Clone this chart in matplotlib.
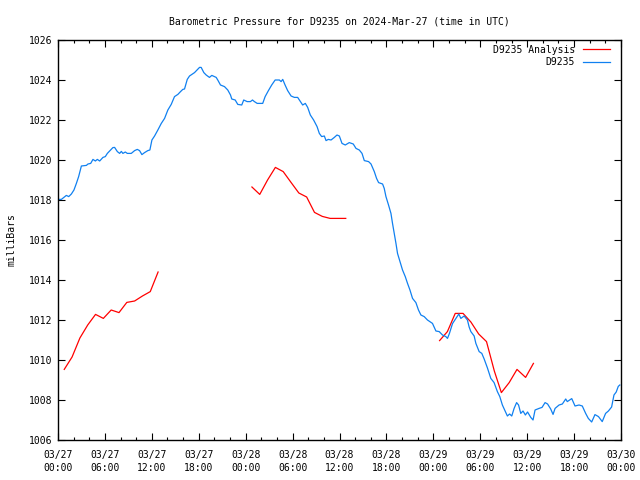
import matplotlib
matplotlib.use("Agg")
import matplotlib.pyplot as plt
from matplotlib.ticker import FixedLocator, MultipleLocator

plt.rcParams['font.family'] = ['DejaVu Sans Mono']

title = "Barometric Pressure for D9235 on 2024-Mar-27 (time in UTC)"
ylabel = "milliBars"

# hours since 2024-03-27 00:00 UTC
blue_hours = [0.00, 0.43, 1.07, 1.37, 1.71, 2.04, 2.35, 2.64, 2.99, 3.63, 3.83, 4.18, 4.47, 4.78,
              5.03, 5.33, 5.75, 6.05, 6.31, 6.60, 7.02, 7.24, 7.59, 7.88, 8.10, 8.30, 8.61, 8.86,
              9.37, 9.80, 10.14, 10.43, 10.73, 11.07, 11.49, 11.75, 12.01, 12.35, 12.77, 13.21,
              13.63, 14.05, 14.48, 14.90, 15.33, 15.67, 15.96, 16.18, 16.53, 16.82, 17.46, 18.10,
              18.31, 18.65, 18.95, 19.37, 19.67, 20.23, 20.43, 20.78, 21.29, 21.71, 22.06, 22.22,
              22.66, 22.99, 23.50, 23.75, 24.19, 24.61, 24.87, 25.12, 25.47, 26.18, 26.49, 26.91,
              27.33, 27.77, 28.31, 28.53, 28.74, 29.04, 29.37, 29.81, 30.23, 30.65, 31.00, 31.29,
              31.63, 31.93, 32.27, 32.69, 33.13, 33.42, 33.72, 34.06, 34.28, 34.57, 34.92, 35.34,
              35.68, 35.98, 36.32, 36.74, 37.25, 37.76, 38.11, 38.53, 38.88, 39.17, 39.72, 40.03,
              40.45, 40.74, 41.00, 41.51, 41.72, 41.94, 42.27, 42.58, 42.78, 43.00, 43.22, 43.42,
              43.73, 44.06, 44.41, 44.70, 45.01, 45.34, 45.77, 46.10, 46.41, 46.83, 47.25, 47.56,
              47.89, 48.33, 48.75, 49.17, 49.60, 49.81, 50.06, 50.45, 50.88, 51.26, 51.52, 51.94,
              52.36, 52.58, 52.80, 53.22, 53.44, 53.86, 54.20, 54.50, 54.92, 55.35, 55.77, 56.19,
              56.50, 56.83, 57.18, 57.47, 57.75, 58.03, 58.33, 58.65, 58.90, 59.18, 59.47, 59.77,
              60.05, 60.46, 60.75, 61.01, 61.52, 61.90, 62.29, 62.61, 63.01, 63.31, 63.57, 64.08,
              64.50, 64.93, 65.13, 65.70, 66.12, 66.63, 67.05, 67.48, 67.82, 68.25, 68.67, 69.12,
              69.60, 70.03, 70.39, 70.80, 71.10, 71.39, 71.65, 71.85]
blue_mb = [1018.03, 1018.03, 1018.23, 1018.17, 1018.30, 1018.50, 1018.83, 1019.17, 1019.70, 1019.73,
           1019.80, 1019.83, 1020.03, 1019.95, 1020.03, 1019.95, 1020.13, 1020.17, 1020.33, 1020.45,
           1020.62, 1020.63, 1020.42, 1020.33, 1020.43, 1020.33, 1020.40, 1020.33, 1020.33, 1020.47,
           1020.53, 1020.47, 1020.27, 1020.37, 1020.47, 1020.50, 1021.00, 1021.20, 1021.50, 1021.83,
           1022.08, 1022.50, 1022.78, 1023.17, 1023.28, 1023.42, 1023.53, 1023.55, 1024.03, 1024.20,
           1024.37, 1024.63, 1024.63, 1024.37, 1024.25, 1024.13, 1024.23, 1024.13, 1024.00, 1023.75,
           1023.67, 1023.50, 1023.25, 1023.05, 1023.00, 1022.78, 1022.75, 1023.00, 1022.92, 1022.92,
           1023.00, 1022.92, 1022.83, 1022.83, 1023.17, 1023.47, 1023.75, 1024.00, 1024.00, 1023.92,
           1024.03, 1023.75, 1023.47, 1023.20, 1023.13, 1023.13, 1022.92, 1022.75, 1022.83, 1022.63,
           1022.25, 1022.00, 1021.67, 1021.33, 1021.17, 1021.20, 1020.97, 1021.03, 1021.00, 1021.13,
           1021.25, 1021.20, 1020.83, 1020.75, 1020.87, 1020.80, 1020.58, 1020.50, 1020.33, 1019.97,
           1019.92, 1019.80, 1019.42, 1019.08, 1018.87, 1018.80, 1018.58, 1018.17, 1017.75, 1017.33,
           1016.83, 1016.33, 1015.83, 1015.33, 1014.92, 1014.50, 1014.17, 1013.83, 1013.50, 1013.08,
           1012.87, 1012.50, 1012.25, 1012.17, 1012.00, 1011.92, 1011.83, 1011.45, 1011.42, 1011.25,
           1011.17, 1011.08, 1011.33, 1011.82, 1012.08, 1012.30, 1012.08, 1012.20, 1012.00, 1011.65,
           1011.42, 1011.20, 1010.83, 1010.42, 1010.33, 1010.05, 1009.60, 1009.08, 1008.87, 1008.42,
           1008.17, 1007.75, 1007.45, 1007.20, 1007.30, 1007.20, 1007.58, 1007.87, 1007.75, 1007.33,
           1007.45, 1007.25, 1007.40, 1007.13, 1007.00, 1007.50, 1007.58, 1007.63, 1007.87, 1007.80,
           1007.55, 1007.28, 1007.58, 1007.75, 1007.80, 1008.05, 1007.92, 1008.07, 1007.70, 1007.75,
           1007.70, 1007.33, 1007.08, 1006.90, 1007.27, 1007.17, 1006.92, 1007.33, 1007.45, 1007.65,
           1008.25, 1008.40, 1008.68, 1008.75]

# analysis series: three separate runs (hours, mbar)
ana1_hours = [0.8, 1.8, 2.8, 3.8, 4.8, 5.8, 6.8, 7.8, 8.8, 9.8, 10.8, 11.8, 12.8]
ana1_mb = [1009.53, 1010.15, 1011.10, 1011.75, 1012.28, 1012.08, 1012.50, 1012.37, 1012.88,
           1012.95, 1013.20, 1013.42, 1014.40]
ana2_hours = [24.8, 25.8, 26.8, 27.8, 28.8, 29.8, 30.8, 31.8, 32.8, 33.8, 34.8, 35.8, 36.8]
ana2_mb = [1018.65, 1018.28, 1019.00, 1019.63, 1019.42, 1018.88, 1018.35, 1018.15, 1017.38,
           1017.18, 1017.08, 1017.08, 1017.08]
ana3_hours = [48.8, 49.8, 50.8, 51.8, 52.8, 53.8, 54.8, 55.8, 56.7, 57.7, 58.7, 59.8, 60.8]
ana3_mb = [1010.97, 1011.42, 1012.33, 1012.33, 1011.90, 1011.30, 1010.92, 1009.45, 1008.37,
           1008.87, 1009.53, 1009.13, 1009.83]

xtick_hours = [0, 6, 12, 18, 24, 30, 36, 42, 48, 54, 60, 66, 72]
xtick_labels = ["03/27\n00:00", "03/27\n06:00", "03/27\n12:00", "03/27\n18:00",
                "03/28\n00:00", "03/28\n06:00", "03/28\n12:00", "03/28\n18:00",
                "03/29\n00:00", "03/29\n06:00", "03/29\n12:00", "03/29\n18:00",
                "03/30\n00:00"]
ytick_vals = [1006, 1008, 1010, 1012, 1014, 1016, 1018, 1020, 1022, 1024, 1026]

RED = '#ff0000'
BLUE = '#1080f0'
FS = 7

fig = plt.figure(figsize=(6.4, 4.8), dpi=100)
ax = fig.add_axes([58/640, 1 - 440/480, (621-58)/640, 400/480])

ax.plot(ana1_hours, ana1_mb, color=RED, lw=0.9, label="D9235 Analysis")
ax.plot(ana2_hours, ana2_mb, color=RED, lw=0.9)
ax.plot(ana3_hours, ana3_mb, color=RED, lw=0.9)
ax.plot(blue_hours, blue_mb, color=BLUE, lw=0.9, label="D9235")

ax.set_xlim(0, 72)
ax.set_ylim(1006, 1026)
ax.xaxis.set_major_locator(FixedLocator(xtick_hours))
ax.set_xticklabels(xtick_labels, linespacing=1.35)
ax.xaxis.set_minor_locator(MultipleLocator(2))
ax.set_yticks(ytick_vals)
ax.set_yticklabels([str(v) for v in ytick_vals])

ax.tick_params(which='major', direction='in', length=5, width=0.8, top=True, right=True,
               labelsize=FS, pad=4)
ax.tick_params(which='minor', direction='in', length=2.5, width=0.8, top=True, right=False)
ax.tick_params(axis='x', which='major', pad=7)
for s in ax.spines.values():
    s.set_linewidth(1.0)

ax.set_title(title, fontsize=FS, pad=11)
ax.set_ylabel(ylabel, fontsize=FS, labelpad=9)

ax.legend(loc='upper right', bbox_to_anchor=(1 - 6/563, 1.0), frameon=False, fontsize=FS,
          markerfirst=False, handlelength=2.8, handletextpad=0.8, borderaxespad=0.3,
          labelspacing=0.25, borderpad=0.2)

fig.savefig("out.png", dpi=100)
